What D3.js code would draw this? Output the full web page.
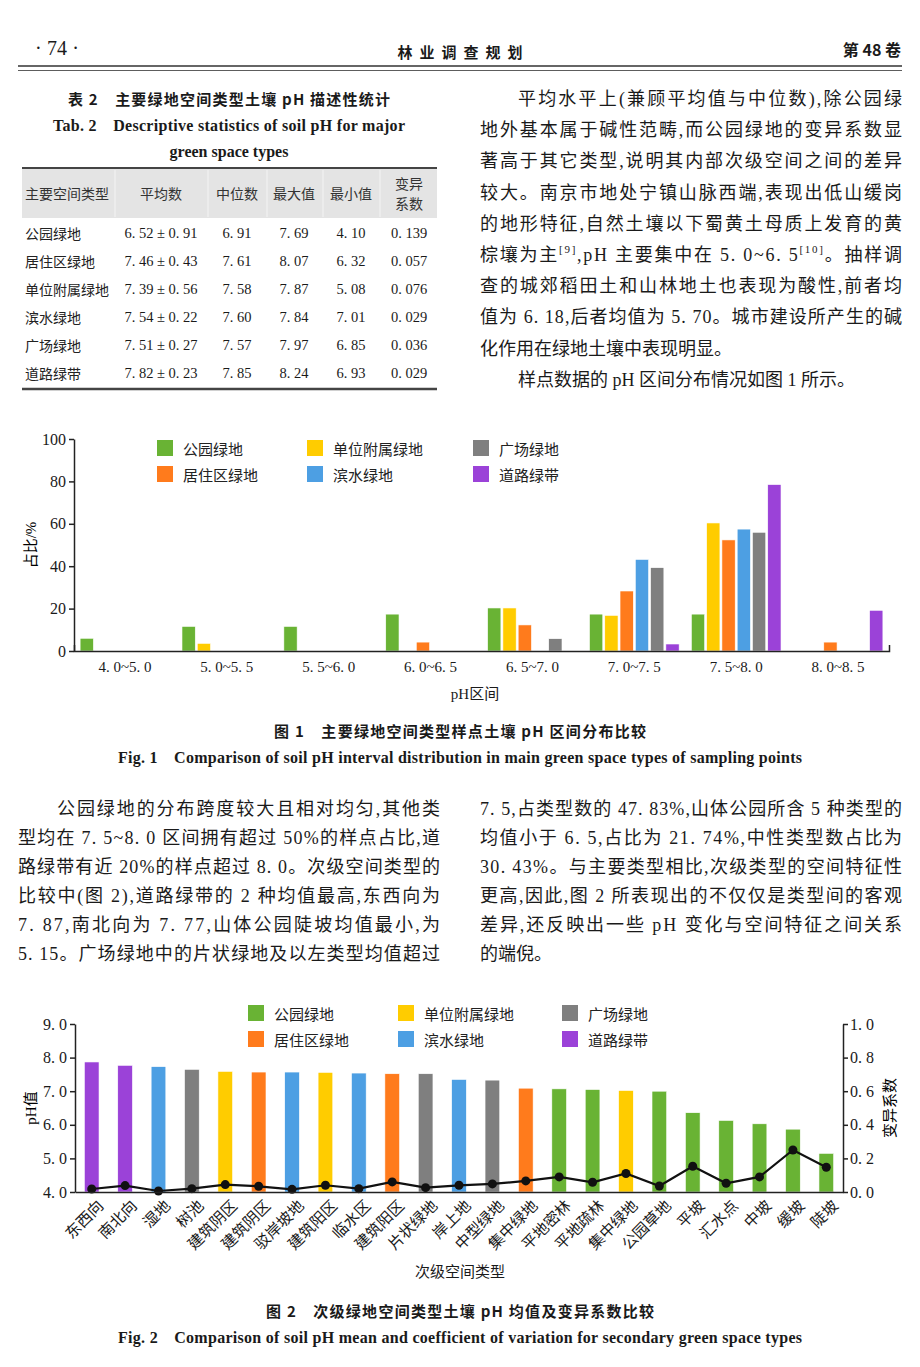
<!DOCTYPE html>
<html><head><meta charset="utf-8">
<script src="https://cdn.jsdelivr.net/npm/d3@7"></script>
<style>body{margin:0;background:#fff} svg{display:block}</style>
</head><body><svg id="page" width="920" height="1367"></svg>
<script>
// ---------- DATA ----------
const seriesNames = ["公园绿地","单位附属绿地","居住区绿地","滨水绿地","广场绿地","道路绿带"];
const seriesColors = ["#69b334","#ffcc00","#ff7b1c","#4d9fe3","#7f7f7f","#9b42d8"];
const legendOrder = ["公园绿地","居住区绿地","单位附属绿地","滨水绿地","广场绿地","道路绿带"];

const phIntervals = ["4. 0~5. 0","5. 0~5. 5","5. 5~6. 0","6. 0~6. 5","6. 5~7. 0","7. 0~7. 5","7. 5~8. 0","8. 0~8. 5"];
const parkShare   = [6.0, 11.6, 11.6, 17.4, 20.3, 17.4, 17.4, 0];
const unitShare   = [0, 3.6, 0, 0, 20.3, 16.8, 60.4, 0];
const residShare  = [0, 0, 0, 4.2, 12.3, 28.3, 52.4, 4.2];
const waterShare  = [0, 0, 0, 0, 0, 43.2, 57.5, 0];
const squareShare = [0, 0, 0, 0, 5.8, 39.3, 56.0, 0];
const roadShare   = [0, 0, 0, 0, 0, 3.3, 78.5, 19.2];
const shareTicks  = [0, 20, 40, 60, 80, 100];

const subTypes = ["东西向","南北向","湿地","树池","建筑阴区","建筑阴区","驳岸坡地","建筑阳区","临水区","建筑阳区","片状绿地","岸上地","中型绿地","集中绿地","平地密林","平地疏林","集中绿地","公园草地","平坡","汇水点","中坡","缓坡","陡坡"];
const subGroup = ["道路绿带","道路绿带","滨水绿地","广场绿地","单位附属绿地","居住区绿地","滨水绿地","单位附属绿地","滨水绿地","居住区绿地","广场绿地","滨水绿地","广场绿地","居住区绿地","公园绿地","公园绿地","单位附属绿地","公园绿地","公园绿地","公园绿地","公园绿地","公园绿地","公园绿地"];
const subMeanPH = [7.87,7.77,7.73,7.65,7.59,7.57,7.57,7.56,7.54,7.52,7.52,7.35,7.33,7.09,7.07,7.05,7.02,7.00,6.36,6.13,6.03,5.87,5.15];
const subCV = [0.018,0.038,0.006,0.020,0.044,0.034,0.016,0.040,0.020,0.060,0.026,0.040,0.048,0.066,0.090,0.058,0.110,0.036,0.153,0.052,0.090,0.250,0.147];
const phTicks = [4,5,6,7,8,9];
const cvTicks = [0,0.2,0.4,0.6,0.8,1.0];

const tableTypes  = ["公园绿地","居住区绿地","单位附属绿地","滨水绿地","广场绿地","道路绿带"];
const tableMean   = [6.52,7.46,7.39,7.54,7.51,7.82];
const tableSD     = [0.91,0.43,0.56,0.22,0.27,0.23];
const tableMedian = [6.91,7.61,7.58,7.60,7.57,7.85];
const tableMax    = [7.69,8.07,7.87,7.84,7.97,8.24];
const tableMin    = [4.10,6.32,5.08,7.01,6.85,6.93];
const tableCV     = [0.139,0.057,0.076,0.029,0.036,0.029];

// ---------- HELPERS ----------
const SERIF = "'Liberation Serif','Noto Sans CJK SC',serif";
const HEI = "'Noto Sans CJK SC',sans-serif";
const svg = d3.select("#page");
svg.append("rect").attr("width",920).attr("height",1367).attr("fill","#fff");
const colorOf = d3.scaleOrdinal().domain(seriesNames).range(seriesColors);
const fmt = (v,d) => v.toFixed(d).replace(".", ". ");

function txt(x, y, s, o = {}) {
  const t = svg.append("text").attr("x", x).attr("y", y)
    .attr("dominant-baseline", "central")
    .attr("font-family", o.font || SERIF)
    .attr("font-size", o.size || 18)
    .attr("font-weight", o.weight || "normal")
    .attr("fill", o.fill || "#1a1a1a")
    .attr("text-anchor", o.anchor || "start")
    .text(s);
  if (o.width) t.attr("textLength", o.width).attr("lengthAdjust", "spacing");
  return t;
}

// ---------- PAGE HEADER ----------
txt(35, 48, "· 74 ·", {size: 20, width: 44});
txt(460, 51, "林 业 调 查 规 划", {font: HEI, size: 15, weight: 600, anchor: "middle", width: 125});
txt(901, 49, "第 48 卷", {font: HEI, size: 16, weight: 600, anchor: "end"});
svg.append("line").attr("x1",18).attr("x2",902).attr("y1",66).attr("y2",66).attr("stroke","#333").attr("stroke-width",1.6);
svg.append("line").attr("x1",18).attr("x2",902).attr("y1",70.5).attr("y2",70.5).attr("stroke","#333").attr("stroke-width",0.8);

// ---------- TABLE ----------
txt(229, 98, "表 2　主要绿地空间类型土壤 pH 描述性统计", {font: HEI, size: 15, weight: 600, anchor: "middle", width: 322});
txt(229, 125, "Tab. 2　Descriptive statistics of soil pH for major", {size: 16, weight: "bold", anchor: "middle", width: 352});
txt(229, 151, "green space types", {size: 16, weight: "bold", anchor: "middle"});
svg.append("rect").attr("x",22).attr("y",169).attr("width",415).attr("height",49).attr("fill","#e4e4e4");
[115,208,267,323,380].forEach(x => svg.append("line").attr("x1",x).attr("x2",x).attr("y1",170).attr("y2",217).attr("stroke","#f4f4f4").attr("stroke-width",1));
svg.append("line").attr("x1",22).attr("x2",437).attr("y1",168).attr("y2",168).attr("stroke","#444").attr("stroke-width",2);
svg.append("line").attr("x1",22).attr("x2",437).attr("y1",389).attr("y2",389).attr("stroke","#444").attr("stroke-width",2.5);
const colX = [161, 237, 294, 351, 409];
txt(25, 193, "主要空间类型", {font: HEI, size: 14, fill: "#333"});
["平均数","中位数","最大值","最小值"].forEach((h,i) => txt(colX[i], 193, h, {font: HEI, size: 14, anchor: "middle", fill: "#333"}));
txt(409, 183, "变异", {font: HEI, size: 14, anchor: "middle", fill: "#333"});
txt(409, 203, "系数", {font: HEI, size: 14, anchor: "middle", fill: "#333"});
tableTypes.forEach((t, i) => {
  const y = 233 + i * 28;
  txt(25, y, t, {font: HEI, size: 14, fill: "#222"});
  txt(colX[0], y, fmt(tableMean[i],2) + " ± " + fmt(tableSD[i],2), {size: 14.5, anchor: "middle"});
  txt(colX[1], y, fmt(tableMedian[i],2), {size: 14.5, anchor: "middle"});
  txt(colX[2], y, fmt(tableMax[i],2), {size: 14.5, anchor: "middle"});
  txt(colX[3], y, fmt(tableMin[i],2), {size: 14.5, anchor: "middle"});
  txt(colX[4], y, fmt(tableCV[i],3), {size: 14.5, anchor: "middle"});
});

// ---------- BODY TEXT (upper right) ----------
const upperRight = [
  [518, 384, "平均水平上(兼顾平均值与中位数),除公园绿"],
  [480, 422, "地外基本属于碱性范畴,而公园绿地的变异系数显"],
  [480, 422, "著高于其它类型,说明其内部次级空间之间的差异"],
  [480, 422, "较大。南京市地处宁镇山脉西端,表现出低山缓岗"],
  [480, 422, "的地形特征,自然土壤以下蜀黄土母质上发育的黄"],
  null,
  [480, 422, "查的城郊稻田土和山林地土也表现为酸性,前者均"],
  [480, 422, "值为 6. 18,后者均值为 5. 70。城市建设所产生的碱"],
  [480, 0, "化作用在绿地土壤中表现明显。"],
  [518, 0, "样点数据的 pH 区间分布情况如图 1 所示。"]
];
upperRight.forEach((l, i) => {
  const y = 99 + i * 31.2;
  if (!l) return;
  txt(l[0], y, l[2], {size: 18, width: l[1] || null});
});
{
  const t = svg.append("text").attr("x",480).attr("y",99 + 5*31.2).attr("dominant-baseline","central")
    .attr("font-family",SERIF).attr("font-size",18).attr("fill","#1a1a1a")
    .attr("textLength",422).attr("lengthAdjust","spacing");
  t.append("tspan").text("棕壤为主");
  t.append("tspan").attr("font-size",11).attr("dy",-6).text("[9]");
  t.append("tspan").attr("dy",6).text(",pH 主要集中在 5. 0~6. 5");
  t.append("tspan").attr("font-size",11).attr("dy",-6).text("[10]");
  t.append("tspan").attr("dy",6).text("。抽样调");
}

// ---------- BODY TEXT (lower) ----------
const lowerLeft = [
  [57, 383, "公园绿地的分布跨度较大且相对均匀,其他类"],
  [18, 422, "型均在 7. 5~8. 0 区间拥有超过 50%的样点占比,道"],
  [18, 422, "路绿带有近 20%的样点超过 8. 0。次级空间类型的"],
  [18, 422, "比较中(图 2),道路绿带的 2 种均值最高,东西向为"],
  [18, 422, "7. 87,南北向为 7. 77,山体公园陡坡均值最小,为"],
  [18, 422, "5. 15。广场绿地中的片状绿地及以左类型均值超过"]
];
const lowerRight = [
  [480, 422, "7. 5,占类型数的 47. 83%,山体公园所含 5 种类型的"],
  [480, 422, "均值小于 6. 5,占比为 21. 74%,中性类型数占比为"],
  [480, 422, "30. 43%。与主要类型相比,次级类型的空间特征性"],
  [480, 422, "更高,因此,图 2 所表现出的不仅仅是类型间的客观"],
  [480, 422, "差异,还反映出一些 pH 变化与空间特征之间关系"],
  [480, 0, "的端倪。"]
];
[lowerLeft, lowerRight].forEach(col => col.forEach((l, i) => {
  txt(l[0], 809 + i * 29, l[2], {size: 18, width: l[1] || null});
}));

// ---------- CHART 1 ----------
{
  const shares = [parkShare, unitShare, residShare, waterShare, squareShare, roadShare];
  const x0 = d3.scaleBand().domain(phIntervals).range([74, 889]);
  const x1 = d3.scaleBand().domain(seriesNames).range([0, x0.bandwidth()]).paddingInner(0.13).paddingOuter(0.4);
  const y = d3.scaleLinear().domain([0, 100]).range([651, 439]);
  const g = svg.append("g");
  const rows = [];
  phIntervals.forEach((c, i) => seriesNames.forEach((s, j) => rows.push({c, s, v: shares[j][i]})));
  g.selectAll("rect.bar").data(rows.filter(d => d.v > 0)).join("rect")
    .attr("x", d => x0(d.c) + x1(d.s)).attr("width", x1.bandwidth())
    .attr("y", d => y(d.v)).attr("height", d => y(0) - y(d.v))
    .attr("fill", d => colorOf(d.s)).attr("stroke", "#fff").attr("stroke-width", 0.6);
  const ya = svg.append("g").attr("transform", "translate(74,0)")
    .call(d3.axisLeft(y).tickValues(shareTicks).tickSize(5).tickSizeOuter(0));
  ya.selectAll("text").attr("font-family", SERIF).attr("font-size", 16).attr("fill", "#1a1a1a").attr("x", -8);
  const xa = svg.append("g").attr("transform", "translate(0,651)")
    .call(d3.axisBottom(x0).tickSize(0).tickSizeOuter(-6).tickPadding(10));
  xa.selectAll("text").attr("font-family", SERIF).attr("font-size", 15).attr("fill", "#1a1a1a").attr("dy", "0.71em");
  [ya, xa].forEach(a => { a.selectAll("path,line").attr("stroke", "#222").attr("stroke-width", 1.5); });
  svg.append("text").attr("transform", "translate(31,545) rotate(-90)").attr("text-anchor", "middle")
    .attr("dominant-baseline", "central").attr("font-family", SERIF).attr("font-size", 15).text("占比/%");
  txt(475, 694, "pH区间", {size: 15, anchor: "middle"});
  const legX = [157, 307, 473], legY = [448, 474];
  legendOrder.forEach((s, k) => {
    const cx = legX[Math.floor(k / 2)], cy = legY[k % 2];
    svg.append("rect").attr("x", cx).attr("y", cy - 8).attr("width", 16).attr("height", 16).attr("fill", colorOf(s));
    txt(cx + 26, cy, s, {font: HEI, size: 15, fill: "#222"});
  });
  txt(460, 730, "图 1　主要绿地空间类型样点土壤 pH 区间分布比较", {font: HEI, size: 15, weight: 600, anchor: "middle", width: 372});
  txt(460, 757, "Fig. 1　Comparison of soil pH interval distribution in main green space types of sampling points", {size: 16, weight: "bold", anchor: "middle", width: 684});
}

// ---------- CHART 2 ----------
{
  const idx = d3.range(subTypes.length);
  const x = d3.scaleBand().domain(idx).range([75, 843]).paddingInner(0.56).paddingOuter(0.28);
  const y = d3.scaleLinear().domain([4, 9]).range([1192, 1024]);
  const y2 = d3.scaleLinear().domain([0, 1]).range([1192, 1024]);
  svg.append("g").selectAll("rect").data(idx).join("rect")
    .attr("x", i => x(i)).attr("width", x.bandwidth())
    .attr("y", i => y(subMeanPH[i])).attr("height", i => y(4) - y(subMeanPH[i]))
    .attr("fill", i => colorOf(subGroup[i])).attr("stroke", "#fff").attr("stroke-width", 0.6);
  const cxOf = i => x(i) + x.bandwidth() / 2;
  svg.append("path").datum(idx)
    .attr("d", d3.line().x(cxOf).y(i => y2(subCV[i])))
    .attr("fill", "none").attr("stroke", "#111").attr("stroke-width", 2.2);
  svg.append("g").selectAll("circle").data(idx).join("circle")
    .attr("cx", cxOf).attr("cy", i => y2(subCV[i])).attr("r", 4.5).attr("fill", "#111");
  const ya = svg.append("g").attr("transform", "translate(75,0)")
    .call(d3.axisLeft(y).tickValues(phTicks).tickSize(5).tickSizeOuter(0).tickFormat(d => fmt(d, 1)));
  const yr = svg.append("g").attr("transform", "translate(843,0)")
    .call(d3.axisRight(y2).tickValues(cvTicks).tickSize(5).tickSizeOuter(0).tickFormat(d => fmt(d, 1)));
  const xa = svg.append("g").attr("transform", "translate(0,1192)")
    .call(d3.axisBottom(x).tickSize(0).tickSizeOuter(0).tickFormat(""));
  [ya, yr].forEach(a => a.selectAll("text").attr("font-family", SERIF).attr("font-size", 16).attr("fill", "#1a1a1a"));
  ya.selectAll("text").attr("x", -8);
  yr.selectAll("text").attr("x", 7);
  [ya, yr, xa].forEach(a => a.selectAll("path,line").attr("stroke", "#222").attr("stroke-width", 1.5));
  svg.append("g").selectAll("text").data(idx).join("text")
    .attr("transform", i => `translate(${cxOf(i) + 9},${1203}) rotate(-45)`)
    .attr("text-anchor", "end").attr("dominant-baseline", "central")
    .attr("font-family", SERIF).attr("font-size", 15.5).attr("fill", "#1a1a1a")
    .text(i => subTypes[i]);
  svg.append("text").attr("transform", "translate(31,1108) rotate(-90)").attr("text-anchor", "middle")
    .attr("dominant-baseline", "central").attr("font-family", SERIF).attr("font-size", 15).text("pH值");
  svg.append("text").attr("transform", "translate(890,1108) rotate(-90)").attr("text-anchor", "middle")
    .attr("dominant-baseline", "central").attr("font-family", SERIF).attr("font-size", 15).text("变异系数");
  txt(460, 1272, "次级空间类型", {size: 15, anchor: "middle"});
  const legX = [248, 398, 562], legY = [1013, 1039];
  legendOrder.forEach((s, k) => {
    const cx = legX[Math.floor(k / 2)], cy = legY[k % 2];
    svg.append("rect").attr("x", cx).attr("y", cy - 8).attr("width", 16).attr("height", 16).attr("fill", colorOf(s));
    txt(cx + 26, cy, s, {font: HEI, size: 15, fill: "#222"});
  });
  txt(460, 1310, "图 2　次级绿地空间类型土壤 pH 均值及变异系数比较", {font: HEI, size: 15, weight: 600, anchor: "middle", width: 388});
  txt(460, 1337, "Fig. 2　Comparison of soil pH mean and coefficient of variation for secondary green space types", {size: 16, weight: "bold", anchor: "middle", width: 684});
}
</script></body></html>
